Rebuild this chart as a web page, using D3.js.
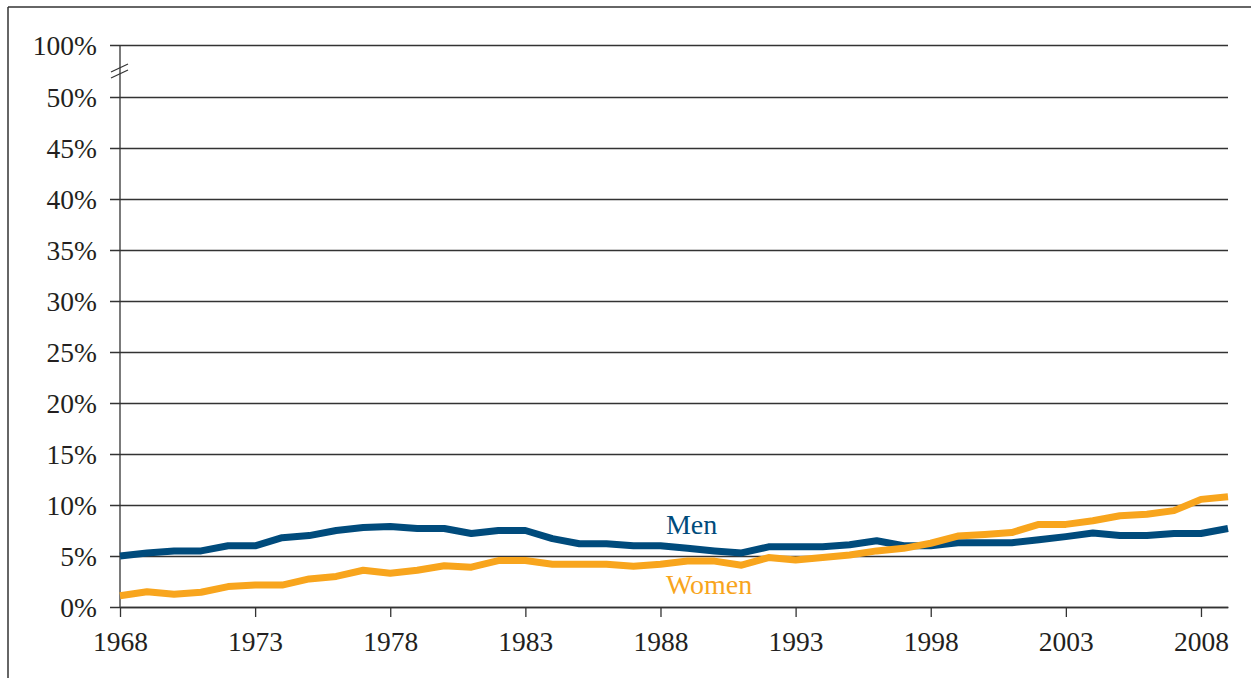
<!DOCTYPE html>
<html>
<head>
<meta charset="utf-8">
<script src="https://cdn.jsdelivr.net/npm/d3@7"></script>
<style>
  body { margin: 0; background: #fff; }
  svg { display: block; }
  text { font-family: "Liberation Serif", "Times New Roman", serif; }
</style>
</head>
<body>
<svg id="chart" width="1251" height="678"></svg>
<script>
const years = d3.range(1968, 2010);

const men = [5.0, 5.3, 5.5, 5.5, 6.0, 6.0, 6.8, 7.0, 7.5, 7.8, 7.9, 7.7, 7.7, 7.2, 7.5, 7.5,
  6.7, 6.2, 6.2, 6.0, 6.0, 5.75, 5.5, 5.3, 5.9, 5.9, 5.9, 6.1, 6.5, 6.0, 6.0, 6.3, 6.3, 6.3,
  6.6, 6.9, 7.25, 7.0, 7.0, 7.2, 7.2, 7.7];

const women = [1.1, 1.5, 1.25, 1.45, 2.0, 2.15, 2.15, 2.75, 3.0, 3.6, 3.3, 3.6, 4.05, 3.9, 4.55, 4.55,
  4.2, 4.2, 4.2, 4.0, 4.2, 4.5, 4.5, 4.1, 4.85, 4.6, 4.85, 5.1, 5.5, 5.75, 6.25, 6.95, 7.1, 7.3,
  8.1, 8.1, 8.45, 8.95, 9.1, 9.45, 10.55, 10.8];

const yTicks = [0, 5, 10, 15, 20, 25, 30, 35, 40, 45, 50, 100];
const xTicks = [1968, 1973, 1978, 1983, 1988, 1993, 1998, 2003, 2008];

const seriesNames = ["Men", "Women"];
const colors = { Men: "#004b7c", Women: "#f8a51d" };

const svg = d3.select("#chart");

// frame around chart (only top and left visible)
svg.append("line").attr("x1", 8).attr("y1", 7).attr("x2", 1251).attr("y2", 7)
  .attr("stroke", "#333").attr("stroke-width", 1.5);
svg.append("line").attr("x1", 8).attr("y1", 7).attr("x2", 8).attr("y2", 678)
  .attr("stroke", "#333").attr("stroke-width", 1.5);

const x = d3.scaleLinear().domain([1968, 2009]).range([120, 1228]);
// broken axis: 50% -> 100% squeezed into a short step
const y = d3.scaleLinear().domain([0, 50, 100]).range([607, 97, 45]);

const font = "Liberation Serif, Times New Roman, serif";

// gridlines + y labels
const yAxis = svg.append("g")
  .attr("transform", "translate(120,0)")
  .call(d3.axisLeft(y).tickValues(yTicks).tickSizeInner(-(1228 - 120)).tickSizeOuter(0)
    .tickPadding(23).tickFormat(d => d + "%"));
yAxis.attr("font-family", null).attr("font-size", null);
yAxis.select(".domain").remove();
yAxis.selectAll(".tick line").attr("x1", -10).attr("stroke", "#333").attr("stroke-width", 1.3);
yAxis.selectAll(".tick text")
  .style("font-family", font).style("font-size", "27.5px").attr("fill", "#231f20")
  .attr("dy", "0.34em");

// vertical axis line
svg.append("line")
  .attr("x1", 120).attr("x2", 120).attr("y1", y(100)).attr("y2", y(0))
  .attr("stroke", "#333").attr("stroke-width", 1.3);

// break marks
const by = (y(50) + y(100)) / 2;
[-3, 3].forEach(o => {
  svg.append("line")
    .attr("x1", 111).attr("y1", by + o + 4).attr("x2", 128).attr("y2", by + o - 4)
    .attr("stroke", "#333").attr("stroke-width", 1.3);
});

// x axis
const xAxis = svg.append("g")
  .attr("transform", `translate(0,${y(0)})`)
  .call(d3.axisBottom(x).tickValues(xTicks).tickSizeInner(10).tickSizeOuter(0)
    .tickPadding(14).tickFormat(d3.format("d")));
xAxis.attr("font-family", null).attr("font-size", null);
xAxis.select(".domain").attr("stroke", "#333").attr("stroke-width", 1.3);
xAxis.selectAll(".tick line").attr("stroke", "#333").attr("stroke-width", 1.3);
xAxis.selectAll(".tick text")
  .style("font-family", font).style("font-size", "27.5px").attr("fill", "#231f20");

// lines
const line = d3.line()
  .x((d, i) => x(years[i]))
  .y(d => y(d));

const data = { Men: men, Women: women };
seriesNames.forEach(name => {
  svg.append("path")
    .datum(data[name])
    .attr("d", line)
    .attr("fill", "none")
    .attr("stroke", colors[name])
    .attr("stroke-width", 7)
    .attr("stroke-linejoin", "round");
});

// series labels
const labels = [
  { name: "Men", year: 1988.2, value: 7.15 },
  { name: "Women", year: 1988.2, value: 1.27 }
];
svg.selectAll(".series-label")
  .data(labels)
  .enter().append("text")
  .attr("class", "series-label")
  .attr("x", d => x(d.year))
  .attr("y", d => y(d.value))
  .style("font-family", font)
  .style("font-size", "28px")
  .attr("fill", d => colors[d.name])
  .text(d => d.name);
</script>
</body>
</html>
